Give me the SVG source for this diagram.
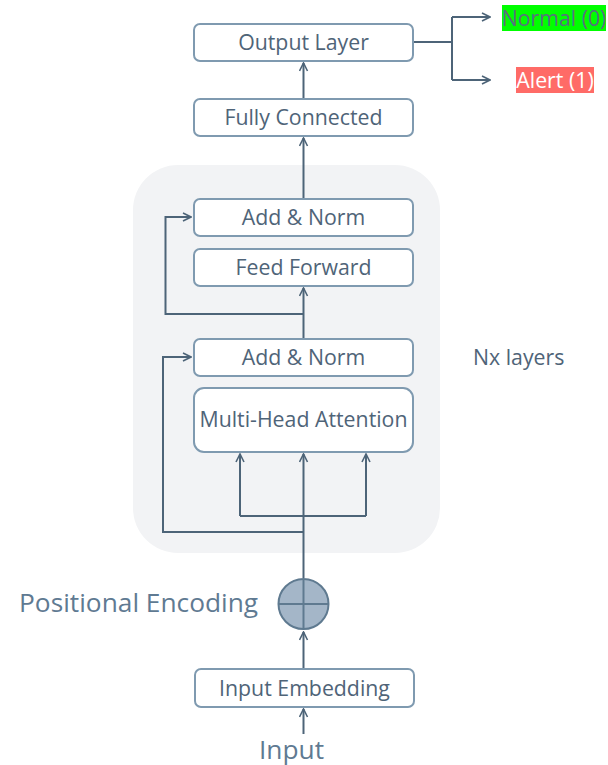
<svg xmlns="http://www.w3.org/2000/svg" width="608" height="765" viewBox="0 0 608 765">
<defs>
<marker id="ah" viewBox="0 0 10 10" refX="9" refY="5" markerWidth="10" markerHeight="10" markerUnits="userSpaceOnUse" orient="auto">
<path d="M1,1 L9,5 L1,9" fill="none" stroke="#4d6478" stroke-width="1.6"/>
</marker>
</defs>
<style>
.box{fill:#ffffff;stroke:#7f9ab0;stroke-width:2}
.t{font-family:"Open Sans","DejaVu Sans",sans-serif;font-size:21.3px;fill:#4f6478;text-anchor:middle}
.big{font-family:"Open Sans","DejaVu Sans",sans-serif;font-size:26.3px;fill:#5f7a92}
.c{fill:none;stroke:#4d6478;stroke-width:2}
</style>
<rect x="133" y="165" width="307" height="388" rx="45" fill="#f2f3f5"/>
<g id="connectors">
<path class="c" d="M303.5,99 L303.5,63" marker-end="url(#ah)"/>
<path class="c" d="M413,42 L452,42 M452,17 L452,80"/>
<path class="c" d="M452,17 L490,17" marker-end="url(#ah)"/>
<path class="c" d="M452,80 L490,80" marker-end="url(#ah)"/>
<path class="c" d="M303.5,198 L303.5,138" marker-end="url(#ah)"/>
<path class="c" d="M303.5,338 L303.5,288" marker-end="url(#ah)"/>
<path class="c" d="M303.5,314 L165.5,314 L165.5,217 L191,217" marker-end="url(#ah)"/>
<path class="c" d="M303.5,578 L303.5,454" marker-end="url(#ah)"/>
<path class="c" d="M240,516 L366,516"/>
<path class="c" d="M240,516 L240,454" marker-end="url(#ah)"/>
<path class="c" d="M366,516 L366,454" marker-end="url(#ah)"/>
<path class="c" d="M303.5,532 L163,532 L163,357 L191,357" marker-end="url(#ah)"/>
<path class="c" d="M303.5,669 L303.5,632" marker-end="url(#ah)"/>
<path class="c" d="M303.5,734 L303.5,709" marker-end="url(#ah)"/>
</g>
<g id="output-layer"><rect class="box" x="194" y="24" width="219" height="37" rx="6"/><text class="t" x="303.5" y="50">Output Layer</text></g>
<g id="normal"><rect x="502" y="5" width="104" height="26" fill="#00ff00"/><text x="554" y="26" font-family="Open Sans, DejaVu Sans, sans-serif" font-size="21.3" fill="#5a6e80" text-anchor="middle">Normal (0)</text></g>
<g id="alert"><rect x="516" y="67" width="78" height="26" fill="#ff6b67"/><text x="555" y="88" font-family="Open Sans, DejaVu Sans, sans-serif" font-size="21.3" fill="#ffffff" text-anchor="middle">Alert (1)</text></g>
<g id="fully-connected"><rect class="box" x="194" y="99" width="219" height="37" rx="6"/><text class="t" x="303.5" y="125">Fully Connected</text></g>
<g id="add-norm-2"><rect class="box" x="194" y="199" width="219" height="37" rx="6"/><text class="t" x="303.5" y="225">Add &amp; Norm</text></g>
<g id="feed-forward"><rect class="box" x="194" y="249" width="219" height="37" rx="6"/><text class="t" x="303.5" y="275">Feed Forward</text></g>
<g id="add-norm-1"><rect class="box" x="194" y="339" width="219" height="37" rx="6"/><text class="t" x="303.5" y="365">Add &amp; Norm</text></g>
<g id="multi-head-attention"><rect class="box" x="194" y="388" width="219" height="64" rx="10"/><text class="t" x="303.5" y="427">Multi-Head Attention</text></g>
<g id="nx-layers"><text x="473" y="365" font-family="Open Sans, DejaVu Sans, sans-serif" font-size="21.3" fill="#4f6478">Nx layers</text></g>
<g id="positional-encoding"><circle cx="303.5" cy="604" r="25" fill="#a4b6c8" stroke="#5f7a90" stroke-width="2"/><path d="M278.5,604 L328.5,604 M303.5,579 L303.5,629" stroke="#5f7a90" stroke-width="2"/><text class="big" x="19" y="612">Positional Encoding</text></g>
<g id="input-embedding"><rect class="box" x="195" y="669" width="219" height="38" rx="6"/><text class="t" x="304.5" y="696">Input Embedding</text></g>
<g id="input"><text class="big" x="291.5" y="759" text-anchor="middle">Input</text></g>
</svg>
